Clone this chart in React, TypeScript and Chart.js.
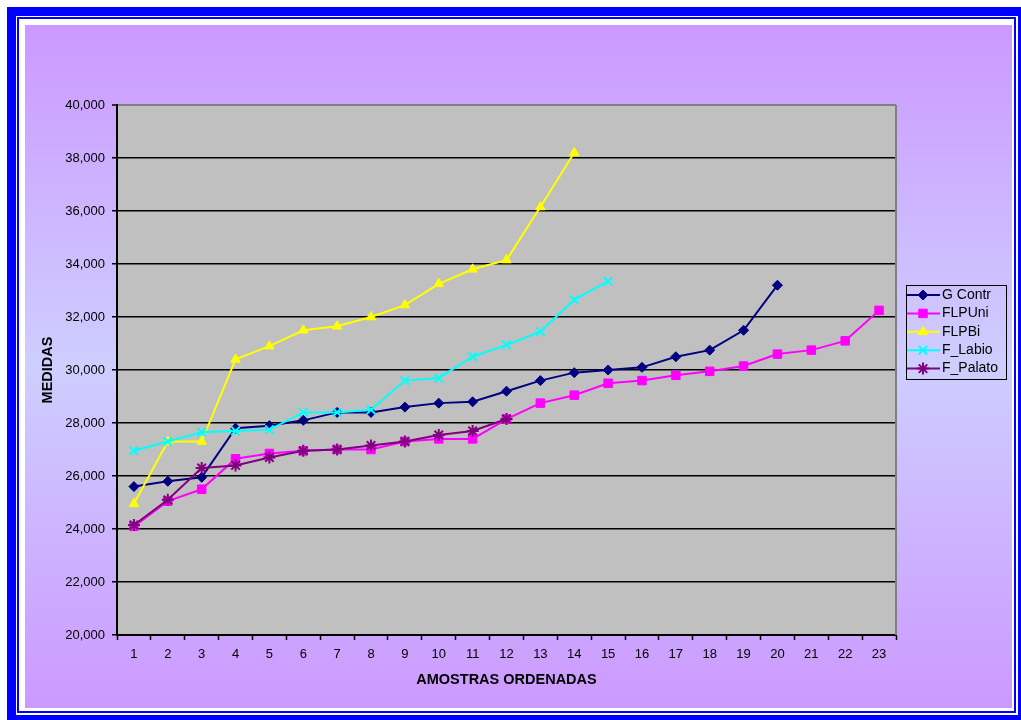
import React, { useEffect, useRef } from 'react';
import { Chart, registerables } from 'chart.js';
import { drawPoint } from 'chart.js/helpers';

Chart.register(...registerables);

const categories = ['1', '2', '3', '4', '5', '6', '7', '8', '9', '10', '11', '12', '13', '14', '15', '16', '17', '18', '19', '20', '21', '22', '23'];

const gContr = [25600, 25800, 25950, 27800, 27900, 28100, 28400, 28400, 28600, 28750, 28800, 29200, 29600, 29900, 30000, 30100, 30500, 30750, 31500, 33200];
const flpUni = [24100, 25050, 25500, 26650, 26850, 26950, 27000, 27000, 27300, 27400, 27400, 28150, 28750, 29050, 29500, 29600, 29800, 29950, 30150, 30600, 30750, 31100, 32250];
const flpBi = [24950, 27300, 27300, 30400, 30900, 31500, 31650, 32000, 32450, 33250, 33800, 34150, 36150, 38200];
const fLabio = [26950, 27300, 27650, 27700, 27750, 28400, 28400, 28500, 29600, 29700, 30500, 30950, 31450, 32650, 33350];
const fPalato = [24150, 25100, 26300, 26400, 26700, 26950, 27000, 27150, 27300, 27550, 27700, 28150];

const seriesNames = ['G Contr', 'FLPUni', 'FLPBi', 'F_Labio', 'F_Palato'];
const seriesColors = ['#000080', '#FF00FF', '#FFFF00', '#00FFFF', '#800080'];
const seriesStyles = ['rectRot', 'rect', 'triangle', 'crossRot', 'star'];
const seriesRadius = [5, 6, 5.5, 6, 6];

const yMin = 20000;
const yMax = 40000;
const yStep = 2000;

const FONT = 'Arial, "Liberation Sans", sans-serif';

const framePlugin = {
  id: 'framePlugin',
  beforeDraw(chart: any) {
    const ctx = chart.ctx;
    ctx.save();
    ctx.fillStyle = '#FFFFFF';
    ctx.fillRect(0, 0, 1021, 720);
    ctx.fillStyle = '#0000FF';
    ctx.fillRect(7, 7, 1014, 713);
    ctx.fillStyle = '#FFFFFF';
    ctx.fillRect(16, 16, 1002, 699);
    ctx.fillStyle = '#0000FF';
    ctx.fillRect(17, 17, 999, 696);
    ctx.fillStyle = '#FFFFFF';
    ctx.fillRect(19, 19, 995, 692);
    const g = ctx.createLinearGradient(0, 25, 0, 708);
    g.addColorStop(0, 'rgb(204,153,255)');
    g.addColorStop(0.5, 'rgb(206,206,255)');
    g.addColorStop(1, 'rgb(204,153,255)');
    ctx.fillStyle = g;
    ctx.fillRect(25, 25, 987, 683);
    const a = chart.chartArea;
    ctx.fillStyle = '#C0C0C0';
    ctx.fillRect(a.left, a.top, a.right - a.left, a.bottom - a.top);
    ctx.restore();
  },
  beforeDatasetsDraw(chart: any) {
    const ctx = chart.ctx;
    const a = chart.chartArea;
    ctx.save();
    ctx.strokeStyle = '#808080';
    ctx.lineWidth = 2;
    ctx.beginPath();
    ctx.moveTo(a.right, a.top);
    ctx.lineTo(a.right, a.bottom);
    ctx.stroke();
    ctx.restore();
  },
  afterDraw(chart: any) {
    const ctx = chart.ctx;
    ctx.save();
    const bx = 906.5, by = 285.5, bw = 100, bh = 94;
    ctx.strokeStyle = '#000000';
    ctx.lineWidth = 1;
    ctx.strokeRect(bx, by, bw, bh);
    ctx.font = '14px ' + FONT;
    ctx.textBaseline = 'middle';
    ctx.textAlign = 'left';
    seriesNames.forEach((name, i) => {
      const y = 295 + i * 18.4;
      ctx.strokeStyle = seriesColors[i];
      ctx.lineWidth = 2;
      ctx.beginPath();
      ctx.moveTo(907, y);
      ctx.lineTo(940, y);
      ctx.stroke();
      ctx.fillStyle = seriesColors[i];
      ctx.strokeStyle = seriesColors[i];
      ctx.lineWidth = seriesStyles[i] === 'crossRot' || seriesStyles[i] === 'star' ? 2 : 1;
      drawPoint(ctx, { pointStyle: seriesStyles[i] as any, radius: seriesRadius[i], rotation: 0, borderWidth: ctx.lineWidth } as any, 923, y);
      ctx.fillStyle = '#000000';
      ctx.fillText(name, 942, y);
    });
    ctx.restore();
  },
};

export default function App() {
  const ref = useRef<HTMLCanvasElement>(null);
  useEffect(() => {
    const seriesData = [gContr, flpUni, flpBi, fLabio, fPalato];
    const chart = new Chart(ref.current as HTMLCanvasElement, {
      type: 'line',
      data: {
        labels: categories,
        datasets: seriesData.map((d, i) => ({
          label: seriesNames[i],
          data: d,
          borderColor: seriesColors[i],
          backgroundColor: seriesColors[i],
          pointBackgroundColor: seriesColors[i],
          pointBorderColor: seriesColors[i],
          pointStyle: seriesStyles[i] as any,
          pointRadius: seriesRadius[i],
          pointBorderWidth: seriesStyles[i] === 'crossRot' || seriesStyles[i] === 'star' ? 2 : 1,
          borderWidth: 2,
          tension: 0,
          fill: false,
          order: 5 - i,
        })),
      },
      options: {
        responsive: false,
        animation: false,
        devicePixelRatio: 1,
        layout: { padding: { left: 30, top: 105, right: 125, bottom: 20 } },
        plugins: {
          legend: { display: false },
          tooltip: { enabled: false },
        },
        scales: {
          x: {
            type: 'category',
            offset: true,
            grid: {
              offset: true,
              drawOnChartArea: false,
              drawTicks: true,
              tickLength: 5,
              tickColor: '#000000',
              tickWidth: 1.5,
            },
            border: { display: true, color: '#000000', width: 2 },
            ticks: {
              color: '#000000',
              font: { family: FONT, size: 13 },
              padding: 7,
              maxRotation: 0,
              autoSkip: false,
            },
            title: {
              display: true,
              text: 'AMOSTRAS ORDENADAS',
              color: '#000000',
              font: { family: FONT, size: 14.5, weight: 'bold' },
              padding: { top: 0, bottom: 11.6 },
            },
            afterFit: (scale: any) => { scale.height = 65; },
          },
          y: {
            min: yMin,
            max: yMax,
            grid: {
              color: (c: any) => (c.tick && c.tick.value === yMax ? '#808080' : '#000000'),
              lineWidth: (c: any) => (c.tick && c.tick.value === yMax ? 2 : 1.5),
              drawTicks: true,
              tickLength: 5,
              tickColor: '#000000',
              tickWidth: 1.5,
            },
            border: { display: true, color: '#000000', width: 2 },
            ticks: {
              stepSize: yStep,
              color: '#000000',
              font: { family: FONT, size: 13 },
              padding: 7,
              callback: (v: any) => Number(v).toLocaleString('en-US'),
            },
            title: {
              display: true,
              text: 'MEDIDAS',
              color: '#000000',
              font: { family: FONT, size: 14.5, weight: 'bold' },
              padding: { top: 9.6, bottom: 0 },
            },
            afterFit: (scale: any) => { scale.width = 87; },
          },
        },
      } as any,
      plugins: [framePlugin],
    });
    return () => chart.destroy();
  }, []);
  return (
    <div style={{ position: 'absolute', left: 0, top: 0, width: 1021, height: 720 }}>
      <canvas ref={ref} width={1021} height={720} style={{ display: 'block', width: 1021, height: 720 }} />
    </div>
  );
}
